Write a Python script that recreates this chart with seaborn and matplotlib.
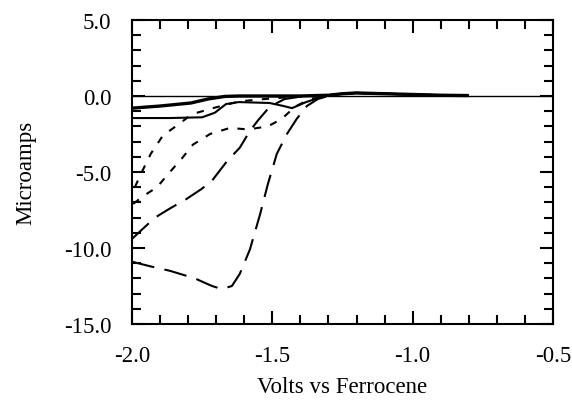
import numpy as np
import pandas as pd
import matplotlib
matplotlib.use("Agg")
import matplotlib.pyplot as plt
import seaborn as sns
from matplotlib.ticker import MultipleLocator, FormatStrFormatter

# ---- data ----
base_v = [-2.0, -0.5]
base_i = [0.0, 0.0]

tail_v = [-1.25, -1.2, -1.1, -1.0, -0.9, -0.8]
tail_i = [0.15, 0.2, 0.15, 0.1, 0.05, 0.03]

thick_v = [-2.0, -1.9, -1.79, -1.73, -1.67, -1.62, -1.5, -1.4, -1.3]
thick_i = [-0.8, -0.66, -0.46, -0.2, -0.03, 0.0, 0.0, 0.0, 0.05]

solid_v = [-2.0, -1.865, -1.75, -1.705, -1.665, -1.62, -1.51, -1.46, -1.43, -1.38, -1.335, -1.3]
solid_i = [-1.45, -1.45, -1.4, -1.1, -0.53, -0.4, -0.46, -0.66, -0.8, -0.4, -0.13, 0.03]

dotA_v = [-1.99, -1.965, -1.933, -1.89, -1.833, -1.787, -1.712, -1.616, -1.527, -1.438, -1.33]
dotA_i = [-6.0, -5.0, -3.8, -2.6, -1.85, -1.2, -0.8, -0.35, -0.2, -0.07, 0.0]

dotB_v = [-1.996, -1.961, -1.911, -1.865, -1.822, -1.783, -1.722, -1.651, -1.587, -1.516, -1.466, -1.419, -1.366, -1.3]
dotB_i = [-7.1, -6.6, -6.0, -5.0, -4.1, -3.2, -2.5, -2.1, -2.2, -2.0, -1.5, -0.7, -0.2, 0.0]

dashC_v = [-2.0, -1.971, -1.918, -1.865, -1.808, -1.751, -1.712, -1.662, -1.616, -1.58, -1.551, -1.509, -1.456, -1.384, -1.3]
dashC_i = [-9.4, -8.9, -8.0, -7.4, -6.8, -6.1, -5.5, -4.3, -3.4, -2.3, -1.6, -0.7, -0.2, 0.0, 0.03]

dashD_v = [-2.0, -1.936, -1.865, -1.776, -1.715, -1.68, -1.644, -1.616, -1.58, -1.544, -1.516, -1.484, -1.448, -1.413, -1.377, -1.338, -1.3]
dashD_i = [-10.9, -11.2, -11.5, -12.0, -12.5, -12.7, -12.5, -11.7, -10.1, -7.8, -5.8, -3.8, -2.5, -1.5, -0.66, -0.2, 0.0]

xticks = [-2.0, -1.5, -1.0, -0.5]
yticks = [5.0, 0.0, -5.0, -10.0, -15.0]

# ---- style ----
sns.set_theme(style="ticks")
plt.rcParams["font.family"] = ["Liberation Serif", "DejaVu Serif"]

fig = plt.figure(figsize=(5.72, 4.10), dpi=100)
ax = fig.add_axes([0.2308, 0.2073, 0.736, 0.7415])

def draw(v, i, lw, dashes=None):
    df = pd.DataFrame({"V": v, "I": i})
    n0 = len(ax.lines)
    sns.lineplot(data=df, x="V", y="I", ax=ax, color="black", linewidth=lw,
                 estimator=None, sort=False, legend=False)
    line = ax.lines[n0]
    if dashes is not None:
        line.set_dashes(dashes)
    line.set_solid_capstyle("butt")
    line.set_dash_capstyle("butt")

draw(base_v, base_i, 1.0)
draw(thick_v + tail_v, thick_i + tail_i, 2.4)
draw(solid_v + tail_v, solid_i + tail_i, 1.5)
draw(dotA_v + tail_v, dotA_i + tail_i, 1.5, (3.5, 4.5))
draw(dotB_v + tail_v, dotB_i + tail_i, 1.5, (3.5, 4.5))
draw(dashC_v + tail_v, dashC_i + tail_i, 1.5, (11, 5))
draw(dashD_v + tail_v, dashD_i + tail_i, 1.5, (11, 5))

ax.set_xlim(-2.0, -0.5)
ax.set_ylim(-15.0, 5.0)
ax.set_xticks(xticks)
ax.set_yticks(yticks)
ax.xaxis.set_minor_locator(MultipleLocator(0.1))
ax.yaxis.set_minor_locator(MultipleLocator(1.0))
ax.xaxis.set_major_formatter(FormatStrFormatter("%.1f"))
ax.yaxis.set_major_formatter(FormatStrFormatter("%.1f"))

ax.tick_params(which="both", direction="in", top=True, right=True,
               color="black", width=1.5)
ax.tick_params(which="major", length=9.5, labelsize=16.5, pad=15, labelcolor="black")
ax.tick_params(which="minor", length=6.5)
for s in ax.spines.values():
    s.set_linewidth(1.5)
    s.set_color("black")

ax.set_xlabel("Volts vs Ferrocene", fontsize=16.5, color="black", labelpad=7)
ax.set_ylabel("Microamps", fontsize=16.5, color="black", labelpad=20)

fig.savefig("out.png", dpi=100)
